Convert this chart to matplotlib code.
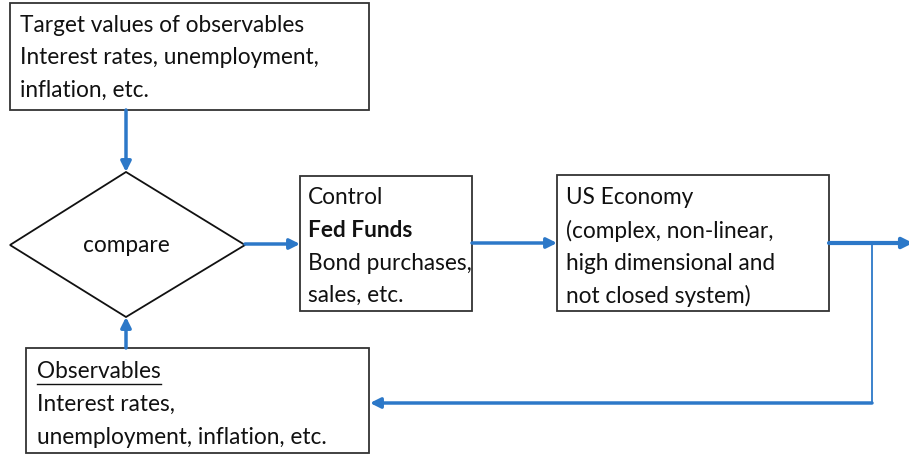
import matplotlib.pyplot as plt
from matplotlib.patches import Rectangle, Polygon

# text of the boxes
target_lines = ["Target values of observables", "Interest rates, unemployment,", "inflation, etc."]
control_lines = ["Control", "Fed Funds", "Bond purchases,", "sales, etc."]
economy_lines = ["US Economy", "(complex, non-linear,", "high dimensional and", "not closed system)"]
observ_lines = ["Observables", "Interest rates,", "unemployment, inflation, etc."]
compare_label = "compare"

plt.rcParams['font.family'] = ['Lato', 'DejaVu Sans']
blue = "#2c78c8"
fs = 16.3

fig = plt.figure(figsize=(9.09, 4.59), dpi=100)
ax = fig.add_axes([0, 0, 1, 1])
ax.set_xlim(0, 909)
ax.set_ylim(459, 0)
ax.axis("off")


def box(x0, y0, x1, y1, lines, ty, tx, bold=None, underline=None):
    ax.add_patch(Rectangle((x0, y0), x1 - x0, y1 - y0, fill=False, ec="#333333", lw=1.3))
    for i, s in enumerate(lines):
        w = "bold" if bold == i else "normal"
        t = ax.text(tx, ty + i * 32.5, s, fontsize=fs, va="center", ha="left",
                    fontweight=w, color="#111111")
        if underline == i:
            fig.canvas.draw()
            bb = t.get_window_extent().transformed(ax.transData.inverted())
            ax.plot([bb.x0, bb.x1], [ty + i * 32.5 + 12, ty + i * 32.5 + 12], color="#111111", lw=1)


box(10, 3, 369, 110, target_lines, 25, 20)
box(300, 176, 472, 311, control_lines, 198, 308, bold=1)
box(557, 175, 829, 311, economy_lines, 198, 566)
box(26, 348, 369, 453, observ_lines, 372, 37, underline=0)

# decision diamond
ax.add_patch(Polygon([(10, 245), (126, 172), (245, 245), (126, 317)], closed=True,
                     fill=False, ec="#111111", lw=1.3))
ax.text(126, 245, compare_label, fontsize=fs, ha="center", va="center", color="#111111")


def arrow(x0, y0, x1, y1, lw=2.5):
    ax.annotate("", xy=(x1, y1), xytext=(x0, y0), annotation_clip=False,
                arrowprops=dict(arrowstyle="-|>,head_length=0.6,head_width=0.3",
                                color=blue, lw=lw, shrinkA=0, shrinkB=0))


arrow(126, 110, 126, 172)
arrow(126, 348, 126, 317)
arrow(245, 244, 300, 244)
arrow(472, 243, 557, 243)
arrow(829, 243, 913, 243, lw=3)
ax.plot([872, 872], [243, 403], color=blue, lw=1.3)
arrow(872, 403, 370, 403, lw=2.5)

fig.savefig("out.png", dpi=100)
